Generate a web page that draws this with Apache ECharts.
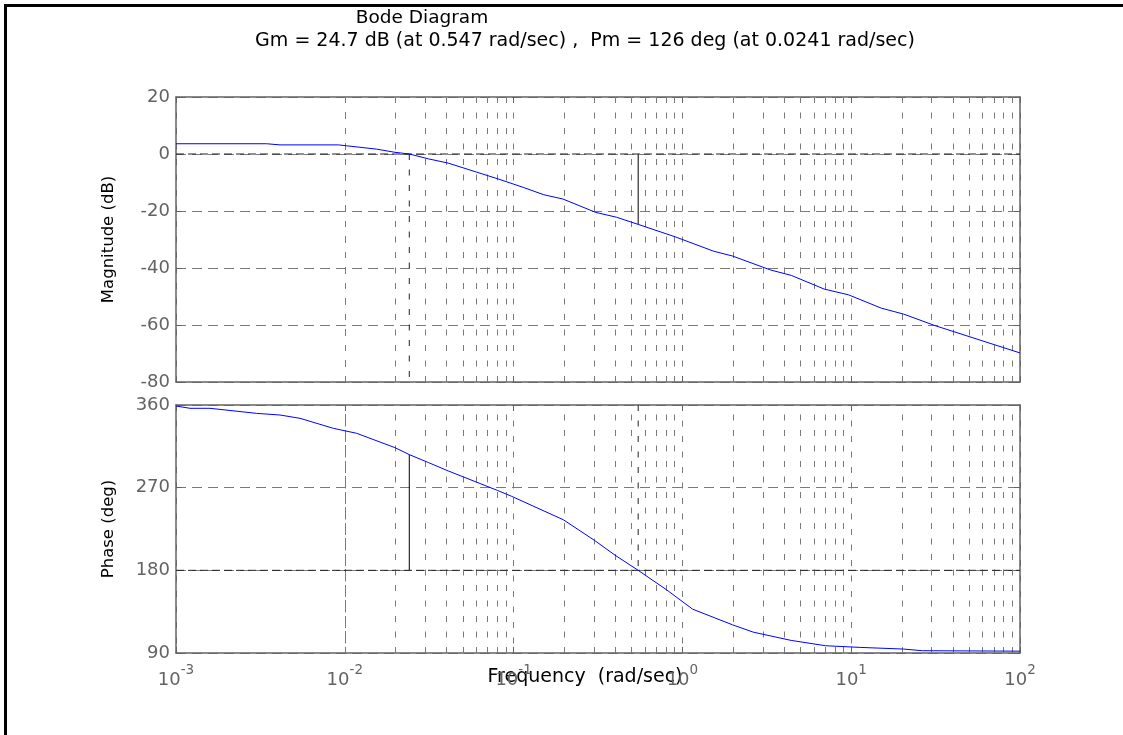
<!DOCTYPE html>
<html>
<head>
<meta charset="utf-8">
<title>Bode Diagram</title>
<script src="https://cdn.jsdelivr.net/npm/echarts@6.0.0/dist/echarts.min.js"></script>
<style>
  html, body { margin: 0; padding: 0; background: #ffffff; }
  #main { width: 1123px; height: 735px; }
</style>
</head>
<body>
<div id="main"></div>
<script>
// 幅频曲线: 频率 (rad/sec) / 幅值 (dB)
const magFreq = [0.001, 0.00344, 0.00413, 0.00916, 0.0102, 0.01545, 0.0198, 0.0241, 0.0313, 0.041,
  0.0805, 0.114, 0.151, 0.196, 0.307, 0.408, 0.547, 0.91, 1.53, 1.98, 3.33, 4.42, 6.92, 9.63,
  15.1, 20.5, 31.3, 100]
const magDb = [3.6, 3.6, 3.2, 3.2, 2.9, 1.7, 0.6, 0, -1.7, -3.2,
  -8.7, -11.7, -14.3, -15.8, -20.5, -22.2, -24.7, -29.1, -34.1, -35.8, -40.7, -42.6, -47.4, -49.4,
  -54.1, -56.2, -60.2, -69.8]

// 相频曲线: 频率 (rad/sec) / 相位 (deg)
const phaseFreq = [0.001, 0.00121, 0.00159, 0.003, 0.00413, 0.00543, 0.00855, 0.01175, 0.0198, 0.0241,
  0.0313, 0.041, 0.0805, 0.097, 0.197, 0.301, 0.399, 0.547, 0.809, 1.15, 1.98, 2.63, 4.41, 7.06,
  11.3, 20.4, 26.4, 100]
const phaseDeg = [358.9, 356.4, 356.4, 350.9, 349.1, 345.5, 334.6, 329.2, 313.6, 306,
  297.3, 288.2, 266.9, 260.7, 235.1, 212.7, 196.5, 180, 158.6, 137.7, 120.7, 112.7, 103.7, 97.9,
  96.1, 94.3, 92.5, 92]

// 坐标刻度
const decades = [0.001, 0.01, 0.1, 1, 10, 100]
const magTicks = [-80, -60, -40, -20, 0, 20]
const phaseTicks = [90, 180, 270, 360]

// 稳定裕度
const gmDb = 24.7
const gmFreq = 0.547
const pmDeg = 126
const pmFreq = 0.0241

const myChart = echarts.init(document.getElementById('main'))

const font = 'DejaVu Sans'
const gray = '#636363'
const gridGray = '#7a7a7a'
const vDash = [6, 9.5] //竖向网格虚线
const hDash = [10, 6] //横向网格虚线

// 每个十倍频程内的 2..9 次网格线
const minorFreqs = []
decades.slice(0, -1).forEach(d => {
  for (let k = 2; k <= 9; k++) minorFreqs.push(d * k)
})

const zip = (xs, ys) => xs.map((x, i) => [x, ys[i]])

function xAxes(gridIndex, showLabels) {
  const base = {
    type: 'log',
    logBase: 10,
    gridIndex: gridIndex,
    min: decades[0],
    max: decades[decades.length - 1],
    axisLine: { onZero: false, lineStyle: { color: gray, width: 1.5 } },
    axisTick: { inside: true, length: 6, lineStyle: { color: gray } }
  }
  return [
    Object.assign({}, base, {
      position: 'bottom',
      splitLine: { show: true, lineStyle: { color: gridGray, type: vDash, width: 1 } },
      axisLabel: showLabels
        ? {
            margin: 10,
            showMinLabel: true,
            showMaxLabel: true,
            formatter: v => '{b|10}{s|' + Math.round(Math.log10(v)) + '}',
            rich: {
              b: { fontFamily: font, fontSize: 18, color: gray, lineHeight: 34 },
              s: { fontFamily: font, fontSize: 13.5, color: gray, lineHeight: 16, verticalAlign: 'top' }
            }
          }
        : { show: false }
    }),
    Object.assign({}, base, {
      position: 'top',
      splitLine: { show: false },
      axisLabel: { show: false }
    })
  ]
}

function yAxes(gridIndex, ticks, name) {
  const base = {
    type: 'value',
    gridIndex: gridIndex,
    min: ticks[0],
    max: ticks[ticks.length - 1],
    interval: ticks[1] - ticks[0],
    axisLine: { show: true, onZero: false, lineStyle: { color: gray, width: 1.5 } },
    axisTick: { show: true, inside: true, length: 6, lineStyle: { color: gray } }
  }
  return [
    Object.assign({}, base, {
      position: 'left',
      name: name,
      nameLocation: 'middle',
      nameGap: 59,
      nameTextStyle: { fontFamily: font, fontSize: 16.5, color: '#000' },
      splitLine: { show: true, lineStyle: { color: gridGray, type: hDash, width: 1 } },
      axisLabel: { margin: 6, fontFamily: font, fontSize: 18, color: gray }
    }),
    Object.assign({}, base, {
      position: 'right',
      splitLine: { show: false },
      axisLabel: { show: false }
    })
  ]
}

// 细线系列
function segment(xi, yi, data, color, type) {
  return {
    type: 'line',
    xAxisIndex: xi,
    yAxisIndex: yi,
    data: data,
    symbol: 'none',
    silent: true,
    z: 5,
    lineStyle: { color: color, width: 1, type: type }
  }
}

function minorGrid(xi, yi) {
  return {
    type: 'line',
    xAxisIndex: xi,
    yAxisIndex: yi,
    data: [],
    silent: true,
    markLine: {
      silent: true,
      symbol: ['none', 'none'],
      label: { show: false },
      lineStyle: { color: gridGray, type: vDash, width: 1 },
      data: minorFreqs.map(v => ({ xAxis: v }))
    }
  }
}

const first = decades[0]
const last = decades[decades.length - 1]

const option = {
  animation: false,
  backgroundColor: '#ffffff',
  grid: [
    { left: 176, top: 97, width: 844, height: 285 },
    { left: 176, top: 405, width: 844, height: 248 }
  ],
  xAxis: xAxes(0, false).concat(xAxes(1, true)),
  yAxis: yAxes(0, magTicks, 'Magnitude (dB)').concat(yAxes(1, phaseTicks, 'Phase (deg)')),
  series: [
    minorGrid(0, 0),
    minorGrid(2, 2),
    // 幅值图: 0 dB 线和裕度标记
    segment(0, 0, [[first, 0], [last, 0]], '#222222', [8, 4]),
    segment(0, 0, [[pmFreq, 0], [pmFreq, magTicks[0]]], '#222222', vDash),
    segment(0, 0, [[gmFreq, 0], [gmFreq, -gmDb]], '#000000', 'solid'),
    {
      type: 'line',
      xAxisIndex: 0,
      yAxisIndex: 0,
      data: zip(magFreq, magDb),
      symbol: 'none',
      z: 10,
      lineStyle: { color: '#0000ff', width: 1 }
    },
    // 相位图: -180 线和裕度标记
    segment(2, 2, [[first, 180], [last, 180]], '#222222', [8, 4]),
    segment(2, 2, [[pmFreq, 180], [pmFreq, 180 + pmDeg]], '#000000', 'solid'),
    segment(2, 2, [[gmFreq, phaseTicks[phaseTicks.length - 1]], [gmFreq, 180]], '#222222', vDash),
    {
      type: 'line',
      xAxisIndex: 2,
      yAxisIndex: 2,
      data: zip(phaseFreq, phaseDeg),
      symbol: 'none',
      z: 10,
      lineStyle: { color: '#0000ff', width: 1 }
    }
  ],
  graphic: [
    // 外框
    { type: 'line', shape: { x1: 5.5, y1: 4, x2: 5.5, y2: 735 }, style: { stroke: '#000', lineWidth: 3 } },
    { type: 'line', shape: { x1: 4, y1: 5.5, x2: 1123, y2: 5.5 }, style: { stroke: '#000', lineWidth: 3 } },
    {
      type: 'text', x: 422, y: 18,
      style: { text: 'Bode Diagram', font: '18.5px "DejaVu Sans"', fill: '#000', align: 'center', verticalAlign: 'middle', textAlign: 'center', textVerticalAlign: 'middle' }
    },
    {
      type: 'text', x: 585, y: 41,
      style: {
        text: 'Gm = ' + gmDb + ' dB (at ' + gmFreq + ' rad/sec) ,  Pm = ' + pmDeg + ' deg (at ' + pmFreq + ' rad/sec)',
        font: '19px "DejaVu Sans"', fill: '#000', align: 'center', verticalAlign: 'middle', textAlign: 'center', textVerticalAlign: 'middle'
      }
    },
    {
      type: 'text', x: 585, y: 677,
      style: { text: 'Frequency  (rad/sec)', font: '19px "DejaVu Sans"', fill: '#000', align: 'center', verticalAlign: 'middle', textAlign: 'center', textVerticalAlign: 'middle' }
    }
  ]
}

myChart.setOption(option)
</script>
</body>
</html>
